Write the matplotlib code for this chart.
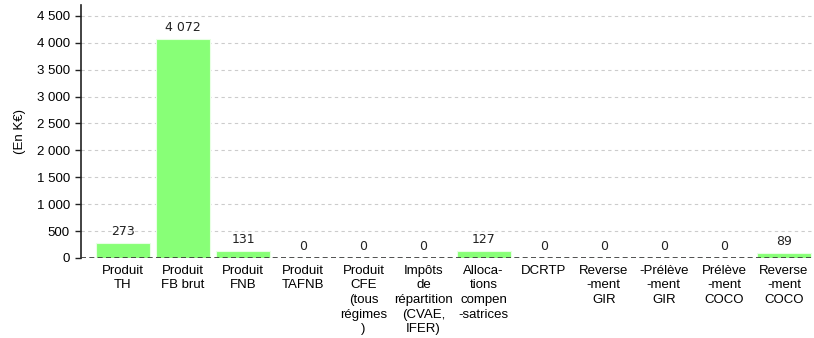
import matplotlib

matplotlib.use('Agg')
import matplotlib.pyplot as plt

# postes de recettes (libellés sur plusieurs lignes comme dans le rapport)
categories = [
  'Produit\nTH', 'Produit\nFB brut', 'Produit\nFNB', 'Produit\nTAFNB',
  'Produit\nCFE\n(tous\nrégimes\n)', 'Impôts\nde\nrépartition\n(CVAE,\nIFER)',
  'Alloca-\ntions\ncompen\n-satrices', 'DCRTP', 'Reverse\n-ment\nGIR',
  '-Prélève\n-ment\nGIR', 'Prélève\n-ment\nCOCO', 'Reverse\n-ment\nCOCO',
]
values = [273, 4072, 131, 0, 0, 0, 127, 0, 0, 0, 0, 89]
yticks = [0, 500, 1000, 1500, 2000, 2500, 3000, 3500, 4000, 4500]


def fr(v):
  return f'{v:,}'.replace(',', ' ')


fig = plt.figure(figsize=(8.14, 3.38), dpi=100)
ax = fig.add_axes([81 / 814, 80 / 338, 733 / 814, 253 / 338])

xs = list(range(len(values)))
ax.bar(xs, values, width=0.9, color='#88ff77', edgecolor='#e8ffe4', linewidth=0.8, zorder=2)
for x, v in zip(xs, values):
  ax.annotate(fr(v), (x, v), textcoords='offset points', xytext=(0, 3.5),
              ha='center', va='bottom', fontsize=9, color='#222222',
              family='DejaVu Sans')

ax.set_xlim(-0.7, 11.5)
ax.set_ylim(0, 4700)
ax.set_yticks(yticks)
ax.set_yticklabels([fr(t) for t in yticks], family='Liberation Sans', fontsize=9.5)
ax.set_xticks(xs)
ax.set_xticklabels(categories, family='Liberation Sans', fontsize=9.5, linespacing=1.28,
                   va='top')
ax.tick_params(axis='x', length=0, pad=5)
ax.tick_params(axis='y', length=4, width=1, color='#222222', pad=4)

ax.yaxis.grid(True, ls=(0, (3, 3)), color='#cccccc', lw=0.8, zorder=0)
ax.axhline(0, ls=(0, (3, 2)), color='#333333', lw=1.2, zorder=3)
for side in ('top', 'right', 'bottom'):
  ax.spines[side].set_visible(False)
ax.spines['left'].set_color('#222222')
ax.spines['left'].set_linewidth(1.2)

ax.set_ylabel('(En K€)', family='Liberation Sans', fontsize=9.5, labelpad=8)

fig.savefig('out.png', dpi=100)
